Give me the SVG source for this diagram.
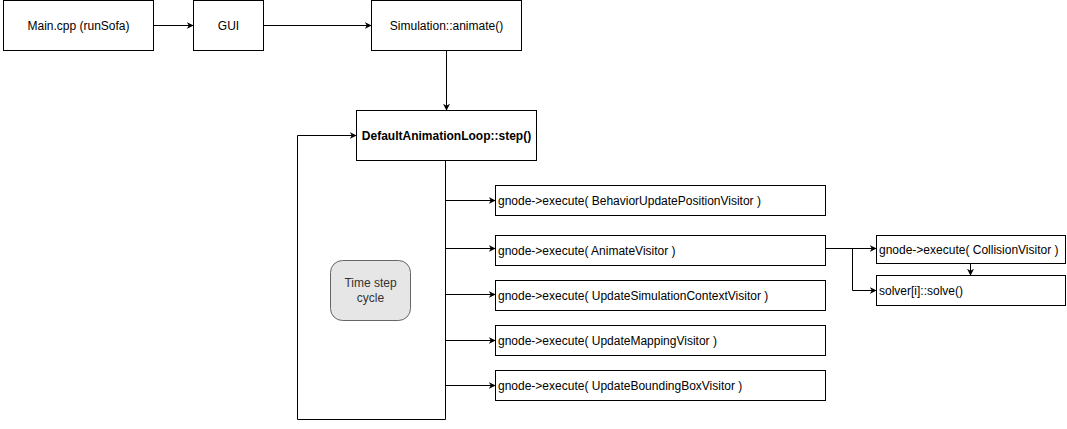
<svg xmlns="http://www.w3.org/2000/svg" width="1067" height="429" viewBox="0 0 1067 429">
<defs>
<marker id="ah" viewBox="0 0 10 10" refX="9" refY="5" markerWidth="7" markerHeight="7" orient="auto" markerUnits="userSpaceOnUse">
<path d="M0,0 L10,5 L0,10 L3,5 Z" fill="#000"/>
</marker>
<style>
.box{fill:#fff;stroke:#000;stroke-width:1}
.t{font-family:"Liberation Sans",Arial,sans-serif;font-size:12px;fill:#000}
.c{text-anchor:middle}
.e{fill:none;stroke:#000;stroke-width:1}
</style>
</defs>
<rect width="1067" height="429" fill="#fff"/>
<g id="main"><rect class="box" x="3.5" y="0.5" width="150" height="50"/><text class="t c" x="78.5" y="29.5">Main.cpp (runSofa)</text></g>
<g id="gui"><rect class="box" x="193.5" y="0.5" width="70" height="50"/><text class="t c" x="228.5" y="29.5">GUI</text></g>
<g id="sim"><rect class="box" x="371.5" y="0.5" width="150" height="50"/><text class="t c" x="446.5" y="29.5">Simulation::animate()</text></g>
<g id="step"><rect class="box" x="356.5" y="110.5" width="180" height="50"/><text class="t c" x="446.5" y="139.5" font-weight="bold">DefaultAnimationLoop::step()</text></g>
<g id="cycle"><rect x="330.5" y="260.5" width="80" height="60" rx="12" ry="12" fill="#e6e6e6" stroke="#666"/><text class="t c" x="370.5" y="287" style="fill:#333">Time step</text><text class="t c" x="370.5" y="302" style="fill:#333">cycle</text></g>
<g id="v1"><rect class="box" x="495.5" y="185.5" width="330" height="30"/><text class="t" x="498" y="204.5">gnode-&gt;execute( BehaviorUpdatePositionVisitor )</text></g>
<g id="v2"><rect class="box" x="495.5" y="235.5" width="330" height="30"/><text class="t" x="498" y="254.5">gnode-&gt;execute( AnimateVisitor )</text></g>
<g id="v3"><rect class="box" x="495.5" y="280.5" width="330" height="30"/><text class="t" x="498" y="299.5">gnode-&gt;execute( UpdateSimulationContextVisitor )</text></g>
<g id="v4"><rect class="box" x="495.5" y="325.5" width="330" height="30"/><text class="t" x="498" y="344.5">gnode-&gt;execute( UpdateMappingVisitor )</text></g>
<g id="v5"><rect class="box" x="495.5" y="370.5" width="330" height="30"/><text class="t" x="498" y="389.5">gnode-&gt;execute( UpdateBoundingBoxVisitor )</text></g>
<g id="coll"><rect class="box" x="876.5" y="235.5" width="189" height="28"/><text class="t" x="879" y="253.5">gnode-&gt;execute( CollisionVisitor )</text></g>
<g id="solve"><rect class="box" x="876.5" y="275.5" width="189" height="30"/><text class="t" x="879" y="294.5">solver[i]::solve()</text></g>
<g id="connectors">
<path class="e" d="M153.5,25.5 H193" marker-end="url(#ah)"/>
<path class="e" d="M263.5,25.5 H371" marker-end="url(#ah)"/>
<path class="e" d="M446.5,50.5 V110" marker-end="url(#ah)"/>
<path class="e" d="M445.5,160.5 V419.5 H297.5 V135.5 H356" marker-end="url(#ah)"/>
<path class="e" d="M445.5,200.5 H495" marker-end="url(#ah)"/>
<path class="e" d="M445.5,248.5 H495" marker-end="url(#ah)"/>
<path class="e" d="M445.5,294.5 H495" marker-end="url(#ah)"/>
<path class="e" d="M445.5,340.5 H495" marker-end="url(#ah)"/>
<path class="e" d="M445.5,385.5 H495" marker-end="url(#ah)"/>
<path class="e" d="M825.5,248.5 H876" marker-end="url(#ah)"/>
<path class="e" d="M852.5,248.5 V290.5 H876" marker-end="url(#ah)"/>
<path class="e" d="M970.5,263.5 V275" marker-end="url(#ah)"/>
</g>
</svg>
